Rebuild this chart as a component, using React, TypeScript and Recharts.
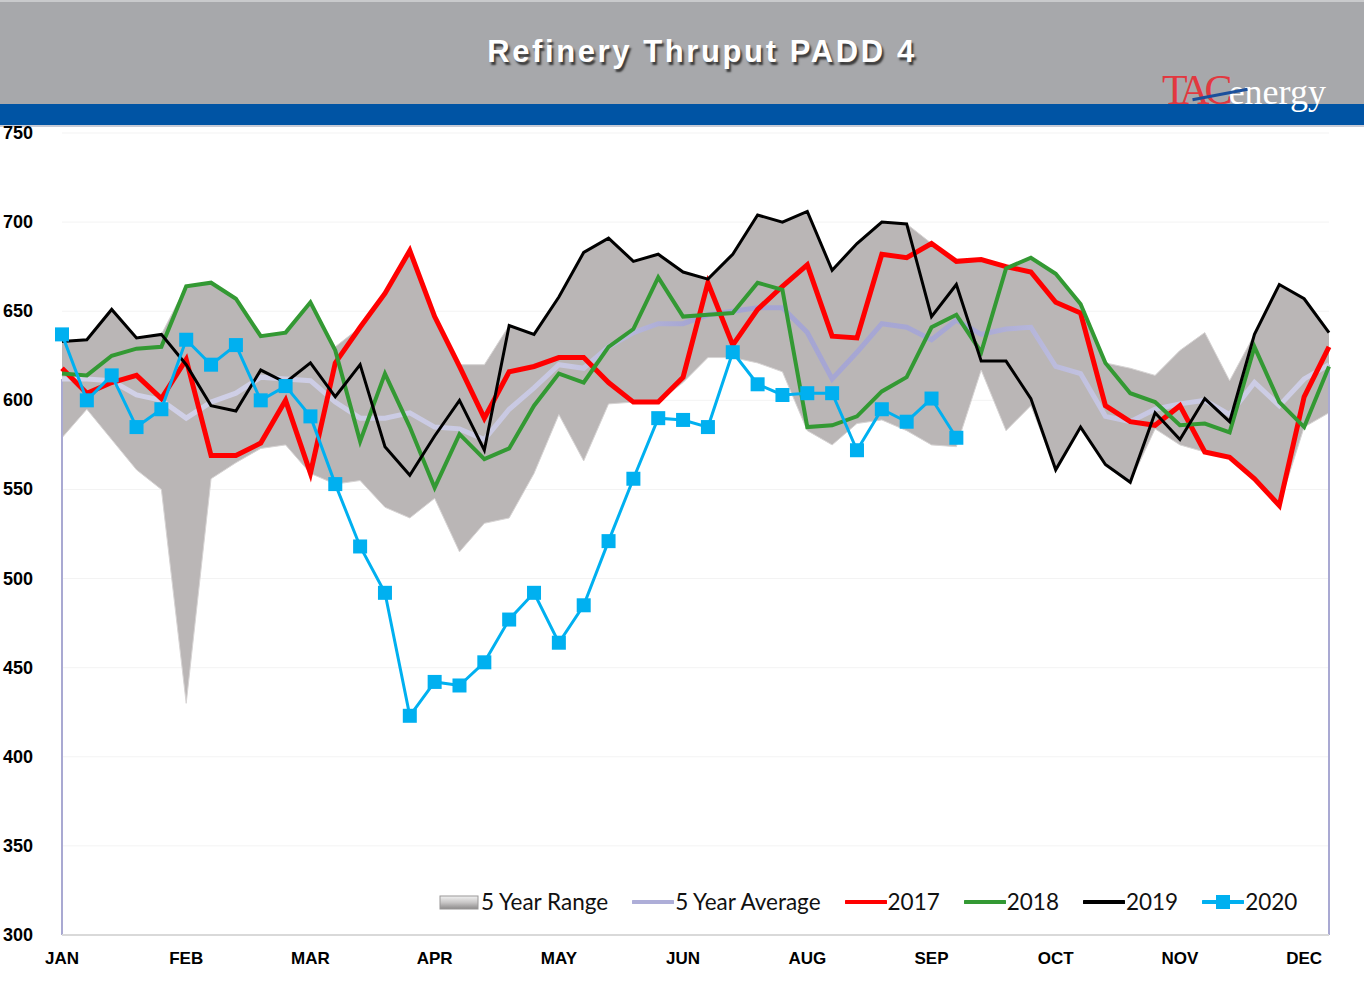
import { ComposedChart, Area, Line, XAxis, YAxis, CartesianGrid, ReferenceLine } from 'recharts';

// weekly refinery thruput, PADD 4 (kb/d)
const monthLabels = ['JAN', 'FEB', 'MAR', 'APR', 'MAY', 'JUN', 'AUG', 'SEP', 'OCT', 'NOV', 'DEC'];
const monthTicks = [0, 5, 10, 15, 20, 25, 30, 35, 40, 45, 50];
const yTicks = [300, 350, 400, 450, 500, 550, 600, 650, 700, 750];

const rangeLow = [579, 595, 578, 561, 550, 430, 556, 565, 573, 575, 559, 553, 555, 540, 534, 545, 515, 531, 534, 559, 592, 566, 598, 599, 599, 610, 624, 624, 621, 616, 583, 575, 587, 589, 583, 575, 574, 617, 583, 597, 561, 585, 563, 554, 584, 575, 571, 568, 556, 541, 585, 593];
const rangeHigh = [633, 634, 651, 635, 637, 664, 666, 657, 636, 638, 655, 630, 641, 660, 684, 647, 620, 620, 642, 637, 658, 683, 691, 678, 682, 672, 668, 682, 704, 700, 706, 673, 688, 700, 699, 688, 678, 679, 675, 680, 671, 654, 621, 618, 614, 628, 638, 611, 637, 665, 657, 638];
const avg5 = [612, 612, 611, 603, 600, 590, 599, 604, 613, 612, 611, 599, 590, 590, 593, 585, 584, 578, 595, 607, 620, 618, 630, 638, 643, 643, 648, 650, 652, 652, 638, 612, 627, 643, 641, 634, 645, 637, 640, 641, 619, 615, 591, 588, 595, 598, 600, 592, 610, 597, 612, 620];
const y2017 = [618, 604, 610, 614, 601, 623, 569, 569, 576, 600, 559, 621, 641, 660, 684, 647, 619, 590, 616, 619, 624, 624, 610, 599, 599, 613, 666, 631, 651, 664, 676, 636, 635, 682, 680, 688, 678, 679, 675, 672, 655, 649, 597, 588, 586, 597, 571, 568, 556, 541, 602, 630];
const y2018 = [615, 614, 625, 629, 630, 664, 666, 657, 636, 638, 655, 628, 577, 615, 585, 551, 581, 567, 573, 597, 615, 610, 630, 640, 669, 647, 648, 649, 666, 662, 585, 586, 591, 605, 613, 641, 648, 627, 674, 680, 671, 654, 621, 604, 599, 586, 587, 582, 630, 599, 585, 619];
const y2019 = [633, 634, 651, 635, 637, 620, 597, 594, 617, 610, 621, 602, 620, 574, 558, 580, 600, 572, 642, 637, 658, 683, 691, 678, 682, 672, 668, 682, 704, 700, 706, 673, 688, 700, 699, 647, 665, 622, 622, 601, 561, 585, 564, 554, 593, 578, 601, 588, 637, 665, 657, 638];
const y2020 = [637, 600, 614, 585, 595, 634, 620, 631, 600, 608, 591, 553, 518, 492, 423, 442, 440, 453, 477, 492, 464, 485, 521, 556, 590, 589, 585, 627, 609, 603, 604, 604, 572, 595, 588, 601, 579];

const data = avg5.map((v, i) => ({
  week: i,
  range: [rangeLow[i], rangeHigh[i]],
  avg: v,
  y2017: y2017[i],
  y2018: y2018[i],
  y2019: y2019[i],
  y2020: i < y2020.length ? y2020[i] : null,
}));

const COLORS = {
  range: '#bab6b6',
  avg: '#aeaed8',
  y2017: '#ff0000',
  y2018: '#339933',
  y2019: '#000000',
  y2020: '#00b0f0',
};

const YTick = (props: any) => (
  <text x={3} y={props.y + 6} textAnchor="start" fontFamily="Liberation Sans, Arial" fontWeight="bold" fontSize={18} fill="#000">
    {props.payload.value}
  </text>
);

const XTick = (props: any) => {
  const idx = monthTicks.indexOf(props.payload.value);
  return (
    <text x={props.x} y={props.y + 21} textAnchor="middle" fontFamily="Liberation Sans, Arial" fontWeight="bold" fontSize={17} fill="#000">
      {idx >= 0 ? monthLabels[idx] : ''}
    </text>
  );
};

const SquareDot = (props: any) => {
  const { cx, cy, index } = props;
  if (cx == null || cy == null || props.value == null) return <g key={`d${index}`} />;
  return <rect key={`d${index}`} x={cx - 7} y={cy - 7} width={14} height={14} fill={COLORS.y2020} />;
};

const LegendItem = ({ kind, color, label }: { kind: string; color: string; label: string }) => (
  <div style={{ display: 'flex', alignItems: 'center', marginRight: 24 }}>
    <svg width={42} height={20} style={{ marginRight: 1 }}>
      {kind === 'box' ? (
        <>
          <defs>
            <linearGradient id="lg" x1="0" y1="0" x2="0" y2="1">
              <stop offset="0" stopColor="#f2f2f2" />
              <stop offset="0.5" stopColor="#c8c6c6" />
              <stop offset="1" stopColor="#8c8a8a" />
            </linearGradient>
          </defs>
          <rect x={2} y={4} width={38} height={13} fill="url(#lg)" stroke="#9a9898" strokeWidth={1} />
        </>
      ) : (
        <>
          <line x1={1} y1={10} x2={41} y2={10} stroke={color} strokeWidth={4} strokeLinecap="round" />
          {kind === 'square' && <rect x={14} y={3} width={14} height={14} fill={color} />}
        </>
      )}
    </svg>
    <span>{label}</span>
  </div>
);

export default function App() {
  return (
    <div style={{ position: 'absolute', left: 0, top: 0, width: 1364, height: 990, background: '#fff', overflow: 'hidden' }}>
      {/* header band */}
      <div style={{ position: 'absolute', left: 0, top: 0, width: 1364, height: 104, background: '#a7a8ab', borderTop: '2px solid #c9cacc', boxSizing: 'border-box' }} />
      <div style={{ position: 'absolute', left: 0, top: 104, width: 1364, height: 21, background: '#0054a4' }} />
      <div style={{ position: 'absolute', left: 0, top: 125, width: 1364, height: 2, background: '#c7cbd6' }} />
      <div
        style={{
          position: 'absolute', left: 0, top: 34, width: 1404, textAlign: 'center',
          fontFamily: 'Liberation Sans, Arial', fontWeight: 'bold', fontSize: 31, letterSpacing: 2.6,
          color: '#fff', textShadow: '2px 3px 2px #3a3a3a',
        }}
      >
        Refinery Thruput PADD 4
      </div>
      <div style={{ position: 'absolute', left: 1162, top: 66, height: 40, fontFamily: 'Liberation Serif, Times New Roman, serif', whiteSpace: 'nowrap' }}>
        <span style={{ color: '#e2383f', fontSize: 42, letterSpacing: -5 }}>TAC</span>
        <span style={{ color: '#fff', fontSize: 36, marginLeft: 1 }}>energy</span>
        <div style={{ position: 'absolute', left: 30, top: 27, width: 56, height: 3, background: '#1a4f9c', transform: 'rotate(-11deg)' }} />
      </div>

      <div style={{ position: 'absolute', left: 0, top: 0 }}>
        <ComposedChart width={1364} height={990} data={data} margin={{ top: 133, right: 35, bottom: 0, left: 0 }}>
          <defs>
            <linearGradient id="avgGrad" x1="0" y1="0" x2="1" y2="0">
              <stop offset="0" stopColor="#d2d2e8" />
              <stop offset="0.4" stopColor="#c8c8e2" />
              <stop offset="0.5" stopColor="#a4a4d2" />
              <stop offset="0.72" stopColor="#a8a8d4" />
              <stop offset="0.82" stopColor="#c6c6e2" />
              <stop offset="1" stopColor="#cfcfe6" />
            </linearGradient>
          </defs>
          <CartesianGrid vertical={false} stroke="#f3f3f3" />
          <XAxis
            dataKey="week"
            type="number"
            domain={[0, 51]}
            ticks={monthTicks}
            tick={<XTick />}
            tickLine={false}
            axisLine={{ stroke: '#d9d9d9', strokeWidth: 2 }}
            height={55}
          />
          <YAxis
            domain={[300, 750]}
            ticks={yTicks}
            tick={<YTick />}
            tickLine={false}
            axisLine={false}
            width={62}
          />
          <Area
            type="linear"
            dataKey="range"
            fill={COLORS.range}
            fillOpacity={1}
            stroke="#d6d3d3"
            strokeWidth={1}
            isAnimationActive={false}
          />
          <ReferenceLine segment={[{ x: 0, y: 300 }, { x: 0, y: avg5[0] }]} stroke="#a9a9d2" strokeWidth={2} />
          <ReferenceLine segment={[{ x: 51, y: 300 }, { x: 51, y: avg5[51] }]} stroke="#a9a9d2" strokeWidth={2} />
          <Line type="linear" dataKey="avg" stroke="url(#avgGrad)" strokeWidth={5} dot={false} isAnimationActive={false} />
          <Line type="linear" dataKey="y2017" stroke={COLORS.y2017} strokeWidth={5} dot={false} isAnimationActive={false} />
          <Line type="linear" dataKey="y2018" stroke={COLORS.y2018} strokeWidth={4} dot={false} isAnimationActive={false} />
          <Line type="linear" dataKey="y2019" stroke={COLORS.y2019} strokeWidth={3} dot={false} isAnimationActive={false} />
          <Line
            type="linear"
            dataKey="y2020"
            stroke={COLORS.y2020}
            strokeWidth={3}
            dot={<SquareDot />}
            connectNulls={false}
            isAnimationActive={false}
          />
        </ComposedChart>
      </div>

      {/* legend */}
      <div
        style={{
          position: 'absolute', left: 438, top: 888, display: 'flex', alignItems: 'center',
          fontFamily: 'Lato, Calibri, sans-serif', fontSize: 22.5, color: '#111',
        }}
      >
        <LegendItem kind="box" color={COLORS.range} label="5 Year Range" />
        <LegendItem kind="line" color={COLORS.avg} label="5 Year Average" />
        <LegendItem kind="line" color={COLORS.y2017} label="2017" />
        <LegendItem kind="line" color={COLORS.y2018} label="2018" />
        <LegendItem kind="line" color={COLORS.y2019} label="2019" />
        <LegendItem kind="square" color={COLORS.y2020} label="2020" />
      </div>
    </div>
  );
}
